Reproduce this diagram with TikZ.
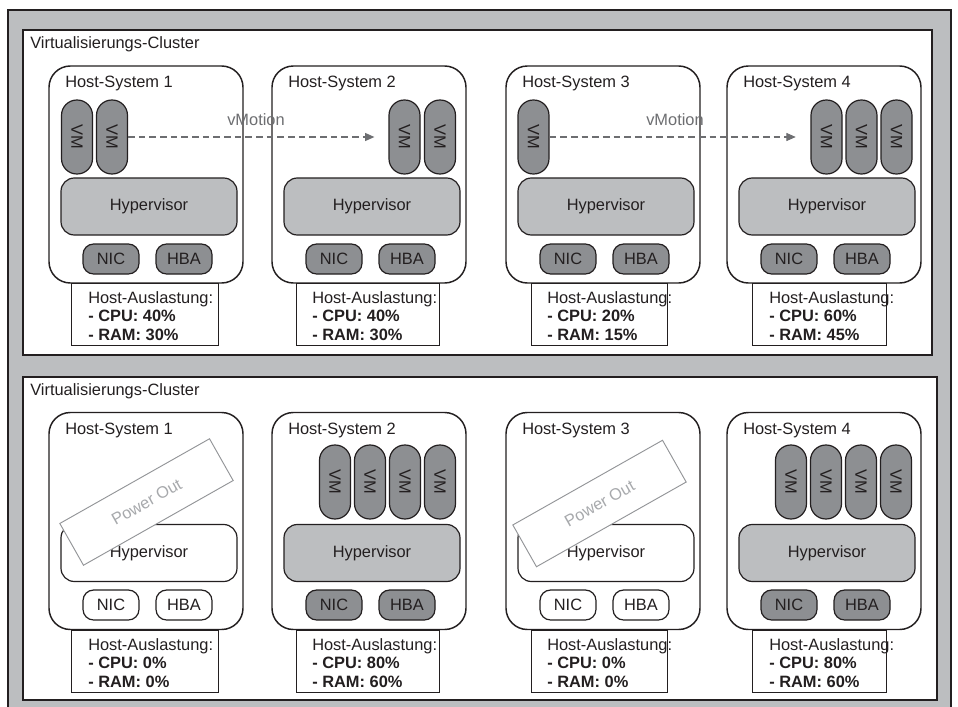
\documentclass[tikz,border=0pt]{standalone}
\usepackage{fontspec}
\setmainfont{Liberation Sans}
\usetikzlibrary{arrows.meta}
\definecolor{lg}{HTML}{BCBEC0}
\definecolor{dg}{HTML}{8D8F92}
\definecolor{ink}{HTML}{231F20}
\definecolor{mot}{HTML}{6D6E71}
\definecolor{pwtext}{HTML}{A7A9AC}
\definecolor{pwline}{HTML}{939598}
\begin{document}
\begin{tikzpicture}[x=0.75pt,y=-0.75pt,
  font=\fontsize{12.3pt}{13.9pt}\selectfont, text=ink,
  frame/.style={draw=ink, line width=1.9pt, fill=lg},
  cluster/.style={draw=ink, line width=1.1pt, fill=white},
  host/.style={draw=ink, line width=1.1pt, fill=white, rounded corners=16pt,
    minimum width=145.5pt, minimum height=162.75pt, inner sep=0pt},
  vm/.style={draw=ink, line width=0.9pt, fill=dg, rounded corners=11.5pt,
    minimum width=55.5pt, minimum height=23.25pt, inner sep=0pt, rotate=-90},
  hyp/.style={draw=ink, line width=0.9pt, fill=lg, rounded corners=10pt,
    minimum width=132pt, minimum height=42.75pt, inner sep=0pt},
  port/.style={draw=ink, line width=0.9pt, fill=dg, rounded corners=8pt,
    minimum width=42pt, minimum height=22.5pt, inner sep=0pt},
  off/.style={fill=white},
  loadbox/.style={draw=ink, line width=0.9pt, fill=white, minimum height=46.5pt,
    inner sep=0pt, anchor=north west},
  loadtext/.style={anchor=north west, align=left, inner sep=0pt},
  lbl/.style={anchor=west, inner sep=0pt},
  motion/.style={draw=mot, dashed, dash pattern=on 5pt off 3pt, line width=0.8pt,
    -{Triangle[length=7pt,width=6pt]}},
  motlbl/.style={text=mot, inner sep=0pt},
  power/.style={draw=pwline, line width=0.7pt, fill=white, text=pwtext,
    minimum width=129pt, minimum height=36pt, inner sep=0pt, rotate=29.5}
]
\useasboundingbox (0,0) rectangle (958,707);
\clip (0,0) rectangle (958,707);
\draw[frame] (8,10) rectangle (951,725);
\draw[cluster] (23,30) rectangle (932,355);
\draw[cluster] (23,377) rectangle (937,700);
\node[lbl] (c1) at (30,44) {Virtualisierungs-Cluster};
\node[lbl] (c2) at (30,391) {Virtualisierungs-Cluster};

% ---------- top cluster ----------
\foreach \i/\L in {1/49,2/272,3/506,4/727} {
  \node[host] (th\i) at (\L+97,174.5) {};
  \node[lbl] (thl\i) at (\L+16,83) {Host-System \i};
  \node[hyp] (thv\i) at (\L+100,206.5) {Hypervisor};
  \node[port] (tnic\i) at (\L+62,259) {NIC};
  \node[port] (thba\i) at (\L+135,259) {HBA};
}
\node[vm] (tv11) at (77,137) {VM};
\node[vm] (tv12) at (112,137) {VM};
\node[vm] (tv21) at (404.5,137) {VM};
\node[vm] (tv22) at (440,137) {VM};
\node[vm] (tv31) at (533.5,137) {VM};
\node[vm] (tv41) at (826.5,137) {VM};
\node[vm] (tv42) at (861.5,137) {VM};
\node[vm] (tv43) at (896.5,137) {VM};

\draw[motion] (tv12.north) -- ([xshift=-10.5pt]tv21.south);
\draw[motion] (tv31.north) -- ([xshift=-11pt]tv41.south);
\node[motlbl] (m1) at (256,120) {vMotion};
\node[motlbl] (m2) at (675,120) {vMotion};

\foreach \n/\x/\w/\t/\c/\r in {1/71/147/88/40/30, 2/296/143/312/40/30,
                                3/531/136/547/20/15, 4/752/134/769/60/45} {
  \node[loadbox, minimum width=\w*0.75pt] (tl\n) at (\x,283) {};
  \node[loadtext] (tt\n) at (\t,291) {Host-Auslastung:\\\textbf{- CPU: \c\%}\\\textbf{- RAM: \r\%}};
}

% ---------- bottom cluster ----------
\foreach \i/\L/\s in {1/49/off,2/272/,3/506/off,4/727/} {
  \node[host] (bh\i) at (\L+97,521) {};
  \node[lbl] (bhl\i) at (\L+16,430) {Host-System \i};
  \node[hyp,\s] (bhv\i) at (\L+100,553) {Hypervisor};
  \node[port,\s] (bnic\i) at (\L+62,605) {NIC};
  \node[port,\s] (bhba\i) at (\L+135,605) {HBA};
}
\node[vm] (bv21) at (335,482) {VM};
\node[vm] (bv22) at (370,482) {VM};
\node[vm] (bv23) at (405,482) {VM};
\node[vm] (bv24) at (440,482) {VM};
\node[vm] (bv41) at (791,482) {VM};
\node[vm] (bv42) at (826,482) {VM};
\node[vm] (bv43) at (861,482) {VM};
\node[vm] (bv44) at (896,482) {VM};

\node[power] (p1) at (146.5,502) {Power Out};
\node[power] (p3) at (599.5,503.5) {Power Out};

\foreach \n/\x/\w/\t/\c/\r in {1/71/147/88/0/0, 2/296/143/312/80/60,
                                3/531/136/547/0/0, 4/752/134/769/80/60} {
  \node[loadbox, minimum width=\w*0.75pt] (bl\n) at (\x,630) {};
  \node[loadtext] (bt\n) at (\t,638) {Host-Auslastung:\\\textbf{- CPU: \c\%}\\\textbf{- RAM: \r\%}};
}
\end{tikzpicture}
\end{document}
